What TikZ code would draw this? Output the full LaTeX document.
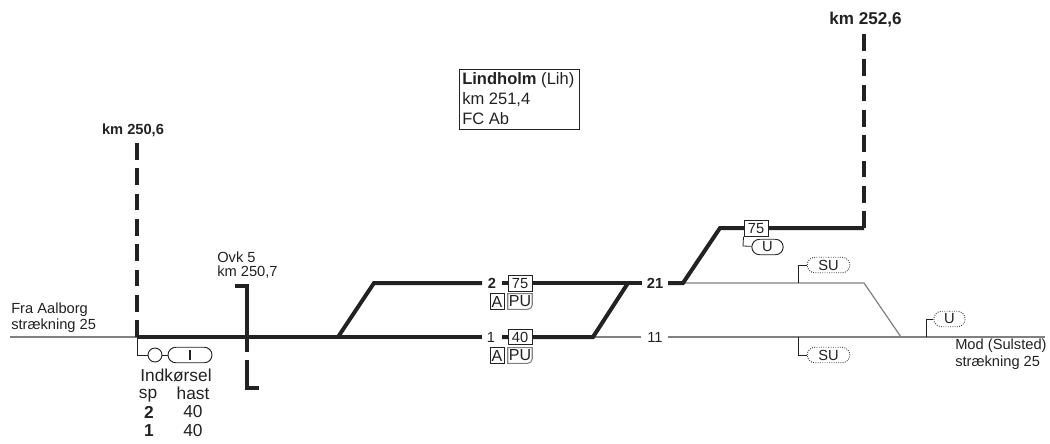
\documentclass[tikz,border=0pt]{standalone}
\usepackage{fontspec}
\setmainfont{Liberation Sans}
\usetikzlibrary{shapes.misc}
\definecolor{ink}{HTML}{222222}
\definecolor{thin}{HTML}{808080}
\tikzset{
  x=0.75pt,y=-0.75pt,
  lbl/.style={inner sep=0pt,text=ink,font=\fontsize{11}{12}\selectfont},
  lblL/.style={lbl,anchor=west},
  lblB/.style={lbl,font=\fontsize{11}{12}\selectfont\bfseries},
  bigB/.style={lbl,font=\fontsize{12.8}{14}\selectfont\bfseries},
  stn/.style={lblL,font=\fontsize{12.4}{14}\selectfont},
  tbl/.style={lbl,font=\fontsize{13}{14}\selectfont},
  heavy/.style={draw=ink,line width=3pt,line join=miter},
  heavydash/.style={heavy,dash pattern=on 12.4pt off 6.6pt},
  thinline/.style={draw=thin,line width=0.9pt},
  tick/.style={draw=ink,line width=0.6pt},
  speedbox/.style={draw=ink,fill=white,line width=0.7pt,minimum width=18pt,minimum height=11.4pt,inner sep=0pt,text=ink,font=\fontsize{11}{12}\selectfont},
  abox/.style={speedbox,minimum width=10.5pt,font=\fontsize{12}{12}\selectfont},
  pubox/.style={minimum width=18pt,minimum height=11.4pt,inner sep=0pt,text=ink,font=\fontsize{12}{12}\selectfont},
  puline/.style={draw=thin,line width=0.8pt},
  pill/.style={rounded rectangle,draw=ink,fill=white,line width=0.7pt,minimum height=11.6pt,inner sep=0pt,text=ink,font=\fontsize{11}{12}\selectfont},
  dotpill/.style={pill,draw=ink!85,densely dotted},
  lamp/.style={circle,draw=ink,fill=white,line width=0.7pt,minimum size=10.5pt,inner sep=0pt},
}
\begin{document}
\begin{tikzpicture}
\useasboundingbox (0,0) rectangle (1050,443);
% named track points
\coordinate (westEnd) at (10,337);
\coordinate (eastEnd) at (1045,337);
\coordinate (entry) at (137,337);
\coordinate (entryTop) at (137,143);
\coordinate (swA) at (338,337);
\coordinate (swB) at (374,283);
\coordinate (swC) at (593,337);
\coordinate (swD) at (628,283);
\coordinate (swE) at (683,283);
\coordinate (swF) at (720,228);
\coordinate (corner) at (864,228);
\coordinate (cornerTop) at (864,34);
\coordinate (thinA) at (864,283);
\coordinate (thinB) at (901,337);
% thin tracks
\draw[thinline] (westEnd) -- (entry);
\coordinate (g11a) at (641,337); \coordinate (g11b) at (668,337);
\draw[thinline] (swC) -- (g11a);
\draw[thinline] (g11b) -- (eastEnd);
\draw[thinline,line join=round] (swE) -- (thinA) -- (thinB);
% labels on track
\node[lbl] (n2) at (492,283) {\bfseries 2};
\node[lbl] (n1) at (491,337) {1};
\node[lbl] (n21) at (655,283) {\bfseries 21};
\node[lbl] (n11) at (655,337) {11};
% signal/road stems
\coordinate (sigElbow) at (137,355);
\coordinate (u1Elbow) at (743,246);
\coordinate (su1Foot) at (798,283);
\coordinate (su1Elbow) at (798,265);
\coordinate (su2Foot) at (798,337);
\coordinate (su2Elbow) at (798,355);
\coordinate (u2Foot) at (926,337);
\coordinate (u2Elbow) at (926,319);
% heavy tracks
\coordinate (g1a) at (482,337); \coordinate (g1b) at (502,337);
\coordinate (g2a) at (482,283); \coordinate (g2b) at (502,283);
\coordinate (g21a) at (642,283); \coordinate (g21b) at (668,283);
\draw[heavy] (entry) -- (g1a);
\draw[heavy] (g1b) -- (swC) -- (swD);
\draw[heavy] (swA) -- (swB) -- (g2a);
\draw[heavy] (g2b) -- (g21a);
\draw[heavy] (g21b) -- (swE) -- (swF) -- (corner);
\draw[heavydash] (entry) -- (entryTop);
\draw[heavydash] (corner) -- (cornerTop);
% level crossing bracket
\coordinate (ovA) at (235,286); \coordinate (ovB) at (247,286);
\coordinate (ovC) at (247,352); \coordinate (ovD) at (247,360);
\coordinate (ovE) at (247,388); \coordinate (ovF) at (259,388);
\draw[heavy] (ovA) -- (ovB) -- (ovC);
\draw[heavy] (ovD) -- (ovE) -- (ovF);
% entry signal
\node[lamp] (lamp) at (155,355) {};
\node[pill,minimum width=33pt] (sigI) at (190,355) {\rule{1.2pt}{8pt}};
\draw[tick] (entry) -- (sigElbow) -- (lamp);
\draw[tick] (lamp) -- (sigI);
% speed boxes
\node[speedbox] (b75) at (520,283.5) {75};
\node[speedbox] (b40) at (520,337) {40};
\node[speedbox] (b75u) at (756,228.5) {75};
\node[abox] (a2) at (497,301.5) {A};
\node[abox] (a1) at (497,355.5) {A};
\node[pubox] (pu2) at (520,301.5) {PU};
\node[pubox] (pu1) at (520,355.5) {PU};
\draw[puline] (pu2.north west) -- (pu2.north east) [rounded corners=3.5pt] -- (pu2.south east) [sharp corners] -- (pu2.south west) -- cycle;
\draw[puline] (pu1.north west) -- (pu1.north east) [rounded corners=3.5pt] -- (pu1.south east) [sharp corners] -- (pu1.south west) -- cycle;
% pills
\node[pill,minimum width=23.5pt] (u1) at (767.5,247) {U};
\draw[tick] (b75u.south west) -- (u1Elbow) -- (u1);
\node[dotpill,minimum width=32pt] (su1) at (828.5,265) {SU};
\node[dotpill,minimum width=32pt] (su2) at (828.5,355) {SU};
\node[dotpill,minimum width=23.5pt] (u2) at (949.5,319) {U};
\draw[tick] (su1Foot) -- (su1Elbow) -- (su1);
\draw[tick] (su2Foot) -- (su2Elbow) -- (su2);
\draw[tick] (u2Foot) -- (u2Elbow) -- (u2);
% station box
\node[draw=ink,line width=0.7pt,minimum width=90.5pt,minimum height=45pt,inner sep=0pt] (stnbox) at (519.5,99) {};
\node[stn] (st1) at (462,80.5) {\textbf{Lindholm} (Lih)};
\node[stn] (st2) at (462,100) {km 251,4};
\node[stn] (st3) at (462,118.5) {FC Ab};
% other text
\node[bigB] (kmE) at (865.5,20) {km 252,6};
\node[lblB] (kmW) at (133,130) {km 250,6};
\node[lblL] (fra1) at (11,310) {Fra Aalborg};
\node[lblL] (fra2) at (11,326) {strækning 25};
\node[lblL] (ovk1) at (217,257) {Ovk 5};
\node[lblL] (ovk2) at (217,272) {km 250,7};
\node[lblL] (mod1) at (955,346) {Mod (Sulsted)};
\node[lblL] (mod2) at (955,363) {strækning 25};
\node[tbl] (ind) at (176,375.5) {Indkørsel};
\node[tbl] (sp) at (148,396) {sp};
\node[tbl] (hast) at (193,393) {hast};
\node[tbl,font=\fontsize{13}{14}\selectfont\bfseries] (r2) at (149,412) {2};
\node[tbl] (v2) at (193,412) {40};
\node[tbl,font=\fontsize{13}{14}\selectfont\bfseries] (r1) at (149,431) {1};
\node[tbl] (v1) at (193,431) {40};
\end{tikzpicture}
\end{document}
